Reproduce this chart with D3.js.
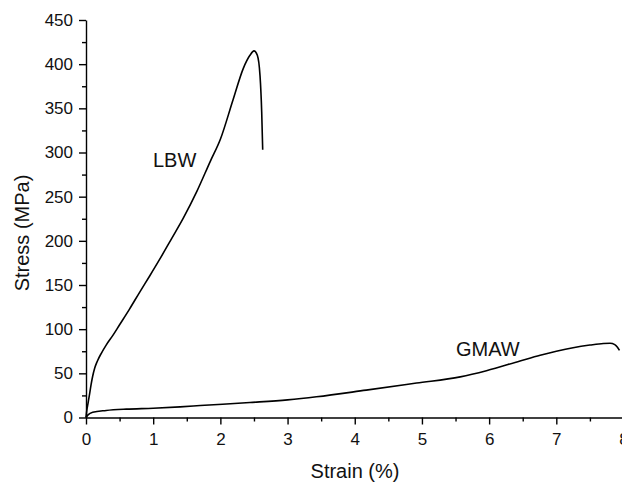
<!DOCTYPE html>
<html lang="en">
<head>
    <meta charset="UTF-8">
    <title>Stress-Strain Curves</title>
    <script src="https://d3js.org/d3.v7.min.js"></script>
    <style>
        body {
            margin: 0;
            background: #ffffff;
            font-family: Arial, "Liberation Sans", sans-serif;
        }
        svg { display: block; }
        .axis path, .axis line {
            stroke: #000;
            stroke-width: 1.4px;
        }
        .axis text {
            font-family: Arial, "Liberation Sans", sans-serif;
            font-size: 17px;
            fill: #111;
        }
        .curve {
            fill: none;
            stroke: #000;
            stroke-width: 1.6px;
        }
        .label {
            font-size: 20px;
            fill: #111;
        }
    </style>
</head>
<body>
    <svg id="chart" width="622" height="483"></svg>

    <script>
        // LBW curve (strain %, stress MPa)
        const lbwStrain = [0, 0.01, 0.03, 0.05, 0.075, 0.1, 0.13, 0.17, 0.23, 0.3, 0.4, 0.5, 0.65, 0.8, 0.95, 1.1, 1.27, 1.45, 1.65, 1.85, 2.0, 2.19, 2.34, 2.44, 2.5, 2.55, 2.59, 2.615, 2.63];
        const lbwStress = [0, 7, 16, 25, 37, 47, 56, 64, 73, 82, 93, 105, 123, 142, 160.5, 179.5, 202, 226, 256, 290, 315, 360, 395, 410, 415, 410, 387, 346, 303];

        // GMAW curve
        const gmawStrain = [0, 0.03, 0.1, 0.3, 0.6, 1.0, 1.4, 1.7, 2.44, 3.0, 3.43, 4.17, 4.92, 5.57, 5.96, 6.46, 6.76, 7.0, 7.25, 7.5, 7.7, 7.8, 7.87, 7.91, 7.94];
        const gmawStress = [0, 3, 6, 8, 9.5, 10.5, 12, 13.5, 17, 20, 23.4, 31, 39, 46, 53, 64, 70.5, 75, 79, 82, 83.8, 84, 82.5, 79.5, 76];

        const xTicks = [0, 1, 2, 3, 4, 5, 6, 7, 8];
        const yTicks = [0, 50, 100, 150, 200, 250, 300, 350, 400, 450];

        const svg = d3.select("#chart");

        const x = d3.scaleLinear().domain([0, 8]).range([86, 623.5]);
        const y = d3.scaleLinear().domain([0, 450]).range([417.5, 20]);

        // minor ticks first
        svg.append("g")
            .attr("class", "axis")
            .attr("transform", `translate(0, ${y(0)})`)
            .call(d3.axisBottom(x).tickValues(d3.range(0.5, 8, 1)).tickSize(4).tickFormat(""))
            .call(g => g.select(".domain").remove());

        svg.append("g")
            .attr("class", "axis")
            .attr("transform", `translate(${x(0)}, 0)`)
            .call(d3.axisLeft(y).tickValues(d3.range(25, 450, 50)).tickSize(4).tickFormat(""))
            .call(g => g.select(".domain").remove());

        // major axes
        svg.append("g")
            .attr("class", "axis")
            .attr("transform", `translate(0, ${y(0)})`)
            .call(d3.axisBottom(x).tickValues(xTicks).tickSize(7).tickSizeOuter(0).tickPadding(8));

        svg.append("g")
            .attr("class", "axis")
            .attr("transform", `translate(${x(0)}, 0)`)
            .call(d3.axisLeft(y).tickValues(yTicks).tickSize(7).tickSizeOuter(0).tickPadding(6));

        const line = d3.line()
            .x(d => x(d[0]))
            .y(d => y(d[1]))
            .curve(d3.curveMonotoneX);

        svg.append("path")
            .attr("class", "curve")
            .attr("d", line(d3.zip(lbwStrain, lbwStress)));

        svg.append("path")
            .attr("class", "curve")
            .attr("d", line(d3.zip(gmawStrain, gmawStress)));

        // curve labels
        svg.append("text").attr("class", "label")
            .attr("x", 153).attr("y", 167)
            .text("LBW");

        svg.append("text").attr("class", "label")
            .attr("x", 456).attr("y", 356)
            .text("GMAW");

        // axis titles
        svg.append("text").attr("class", "label")
            .attr("x", 355).attr("y", 478)
            .attr("text-anchor", "middle")
            .text("Strain (%)");

        svg.append("text").attr("class", "label")
            .attr("transform", "translate(29, 233) rotate(-90)")
            .attr("text-anchor", "middle")
            .text("Stress (MPa)");
    </script>
</body>
</html>
